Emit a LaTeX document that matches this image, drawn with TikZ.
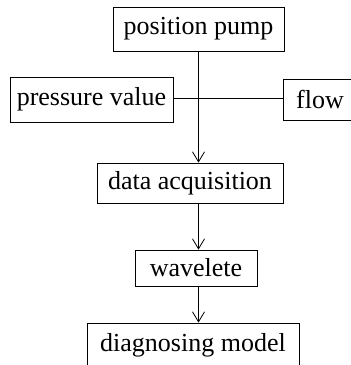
\documentclass[tikz,border=0pt]{standalone}
\usepackage{fontspec}
\setmainfont{Liberation Serif}
\usetikzlibrary{arrows.meta}
\begin{document}
\begin{tikzpicture}[x=1pt,y=1pt,
  box/.style={draw,line width=0.8pt,inner sep=0pt,font=\fontsize{26}{30}\selectfont},
  conn/.style={line width=0.8pt},
  arr/.style={conn,-{Straight Barb[length=10pt,width=12pt,line width=0.8pt]}}]
\clip (0,0) rectangle (351,-365);
\useasboundingbox (0,0) rectangle (351,-365);
\node[box,minimum width=171pt,minimum height=44pt] (pos) at (198.5,-29) {position pump};
\node[box,minimum width=163pt,minimum height=45pt] (press) at (91.5,-99.5) {pressure value};
\node[box,minimum width=74pt,minimum height=41pt] (flow) at (320,-99.5) {flow};
\node[box,minimum width=186pt,minimum height=40pt] (data) at (190,-183) {data acquisition};
\node[box,minimum width=122pt,minimum height=36pt] (wave) at (196,-268) {wavelete};
\node[box,minimum width=212pt,minimum height=44pt] (diag) at (193,-345) {diagnosing model};
\draw[conn] (press.east |- 0,-98) -- (flow.west |- 0,-98);
\draw[arr] (pos.south) -- (pos.south |- data.north);
\draw[arr] (pos.south |- data.south) -- (pos.south |- wave.north);
\draw[arr] (pos.south |- wave.south) -- (pos.south |- diag.north);
\end{tikzpicture}
\end{document}
